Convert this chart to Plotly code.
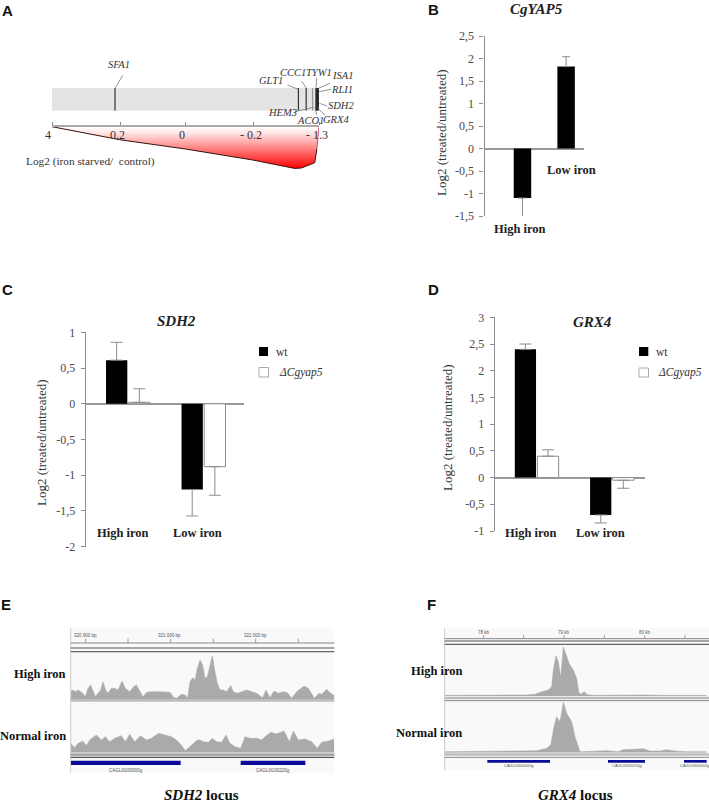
import plotly.graph_objects as go

W, H = 709, 802
SERIF = "Liberation Serif"
SANS = "Liberation Sans"
GREY = "#8c8c8c"
TICKTXT = "#4a4a4a"

# ---- Panel A data ----
wedge_rank = [0, 25.3, 50, 75.2, 87.7, 90.9, 93.4, 95.3, 98.4, 99.2, 100]
wedge_depth = [0, 13, 22.3, 33.3, 40, 41.7, 41.3, 39, 36, 22, 0]
gene_rank = [23.6, 92.3, 95.2, 97.6, 98.9, 99.3, 99.7]
gene_color = ["#333333", "#333333", "#333333", "#999999", "#000000", "#000000", "#000000"]
scale_ticks = [0, 25.5, 50, 75.5, 100]
scale_labels = ["4", "0.2", "0", "- 0.2", "- 1.3"]

# ---- Panel B data ----
yap5_cat = ["High iron", "Low iron"]
yap5_val = [-1.1, 1.82]
yap5_plus = [0, 0.22]
yap5_minus = [0.48, 0]

# ---- Panel C data ----
groups = ["High iron", "Low iron"]
sdh2_wt = [0.61, -1.2]
sdh2_wt_plus = [0.25, 0]
sdh2_wt_minus = [0, 0.37]
sdh2_mut = [0.02, -0.88]
sdh2_mut_plus = [0.19, 0]
sdh2_mut_minus = [0, 0.4]

# ---- Panel D data ----
grx4_wt = [2.4, -0.7]
grx4_wt_plus = [0.1, 0]
grx4_wt_minus = [0, 0.15]
grx4_mut = [0.4, -0.05]
grx4_mut_plus = [0.12, 0]
grx4_mut_minus = [0, 0.15]

# ---- Panel E coverage (position along the window, height of the pile-up) ----
e_high_pos = [212,219,226,234,242,249,256,264,272,279,286,294,302,309,317,324,334,344,354,366,376,389,401,409,419,429,440,455,475,490,510,522,530,545,555,563,570,578,585,592,600,608,615,622,630,637,645,652,660,670,680,692,700,712,725,740,755,770,788,798,810,822,835,850,862,875,890,912,925,943,957,965,980,992,1003]
e_high_cov = [25,27,22,27,22,17,7,32,42,22,7,17,27,52,27,17,32,32,27,54,32,22,37,42,22,7,20,22,22,21,20,4,2,15,12,3,52,64,57,92,117,102,62,67,102,130,82,47,27,27,22,40,22,17,22,27,22,17,4,27,4,24,17,22,19,2,22,39,32,2,17,14,29,17,10]
e_norm_pos = [212,224,234,249,259,269,289,304,316,329,344,364,376,389,404,422,439,454,476,494,514,529,544,556,574,592,600,610,625,637,650,665,678,690,705,722,735,750,770,785,795,812,830,852,868,880,895,915,935,952,965,985,1003]
e_norm_cov = [27,14,27,34,20,37,52,37,47,32,42,50,32,54,32,50,37,42,57,52,47,37,22,5,22,37,37,32,30,42,32,30,52,27,17,12,47,42,42,37,47,60,55,64,32,64,37,40,32,12,30,34,40]

# ---- Panel F coverage ----
f_high_pos = [254,300,350,400,450,500,525,545,565,575,580,588,595,602,610,618,628,640,650,657,665,672,682,700,760,800,860,900,1040]
f_high_cov = [2,2,3,2,3,3,5,13,18,28,78,121,103,56,148,123,96,78,53,8,6,13,4,2,3,2,3,2,2]
f_norm_pos = [254,300,370,420,480,530,560,572,582,590,598,603,610,620,635,645,660,700,740,775,790,820,850,870,900,920,945,980,1040]
f_norm_cov = [3,3,5,4,5,6,13,23,78,108,93,108,153,118,93,48,3,4,6,3,9,10,12,5,5,9,5,3,3]

# ---- Track labels ----
e_ruler_labels = ["320 900 bp", "321 000 bp", "322 000 bp"]
f_ruler_labels = ["78 kb", "79 kb", "80 kb"]
e_gene_labels = ["CAGL0G00000g", "CAGL0G00220g"]
f_gene_labels = ["CAGL0G00000g", "CAGL0G00220g", "CAGL0G00000g"]


def px(x):
    return x / W


def py(y):
    return 1 - y / H


fig = go.Figure()
ann = []
shapes = []
axes = {}
n_axes = [0]


def note(x, y, text, size=12, color="#222222", family=SERIF, xa="center", angle=0):
    ann.append(dict(x=px(x), y=py(y), xref="paper", yref="paper", text=text, showarrow=False,
                    xanchor=xa, yanchor="middle", textangle=angle,
                    font=dict(size=size, color=color, family=family)))


def rect(x0, y0, x1, y1, fill, line=None, lw=0, layer="below"):
    shapes.append(dict(type="rect", xref="paper", yref="paper", x0=px(x0), x1=px(x1),
                       y0=py(y0), y1=py(y1), fillcolor=fill, layer=layer,
                       line=dict(color=line or fill, width=lw)))


def seg(x0, y0, x1, y1, color, lw=1):
    shapes.append(dict(type="line", xref="paper", yref="paper", x0=px(x0), x1=px(x1),
                       y0=py(y0), y1=py(y1), line=dict(color=color, width=lw)))


def new_axes(xpx, ypx, xcfg, ycfg):
    n_axes[0] += 1
    i = n_axes[0]
    s = "" if i == 1 else str(i)
    xid, yid = "x" + s, "y" + s
    axes["xaxis" + s] = dict(domain=[px(xpx[0]), px(xpx[1])], anchor=yid, automargin=False, **xcfg)
    axes["yaxis" + s] = dict(domain=[py(ypx[1]), py(ypx[0])], anchor=xid, automargin=False, **ycfg)
    return xid, yid


HIDDEN = dict(visible=False, fixedrange=True)

# ===== Panel A =====
rect(52, 88, 318.5, 110.7, "#e4e4e4")
xa, ya = new_axes((52, 319), (88, 110.7), dict(range=[0, 100], **HIDDEN), dict(range=[0, 1], **HIDDEN))
for r, c in zip(gene_rank, gene_color):
    fig.add_trace(go.Scatter(x=[r, r], y=[0, 1], mode="lines", line=dict(color=c, width=1.2),
                             xaxis=xa, yaxis=ya, showlegend=False, hoverinfo="skip"))
for a, b, c, d in [(346, 264, 368, 226), (895, 268, 862, 255), (919, 265, 905, 243), (948, 265, 950, 233),
                   (955, 265, 990, 250), (957, 275, 993, 268), (958, 310, 982, 318), (950, 322, 975, 345),
                   (945, 322, 950, 345), (940, 322, 885, 335)]:
    seg(a / 3, b / 3, c / 3, d / 3, "#666666", 0.7)
for x, y, t in [(119, 64, "SFA1"), (271, 81, "GLT1"), (293, 72.7, "CCC1"), (319, 72.7, "TYW1"), (342, 76, "ISA1"),
                (342, 89, "RLI1"), (341, 106, "SDH2"), (282, 113, "HEM3"), (310, 120, "ACO1"), (336, 119, "GRX4")]:
    note(x, y, "<i>%s</i>" % t, size=10.5, color="#333333")

xa, ya = new_axes(
    (52, 319), (126.7, 170),
    dict(range=[0, 100], side="top", showline=True, linecolor="#aaaaaa", linewidth=1.5, showgrid=False,
         zeroline=False, ticks="outside", ticklen=3, tickcolor="#888888", tickvals=scale_ticks,
         showticklabels=False, fixedrange=True),
    dict(range=[43.3, 0], **HIDDEN))
fig.add_trace(go.Scatter(x=wedge_rank, y=wedge_depth, mode="lines", fill="toself",
                         fillgradient=dict(type="vertical", colorscale=[[0, "#ff0000"], [0.85, "#ffe6e6"], [1, "#ffffff"]]),
                         line=dict(width=0), xaxis=xa, yaxis=ya, showlegend=False, hoverinfo="skip"))
fig.add_trace(go.Scatter(x=wedge_rank[:-1], y=wedge_depth[:-1], mode="lines", line=dict(color="#3a1010", width=1),
                         xaxis=xa, yaxis=ya, showlegend=False, hoverinfo="skip"))
fig.add_trace(go.Scatter(x=wedge_rank[-2:], y=wedge_depth[-2:], mode="lines", line=dict(color="#cc5555", width=1),
                         xaxis=xa, yaxis=ya, showlegend=False, hoverinfo="skip"))
for x, t in zip([47.7, 117, 182, 251, 317], scale_labels):
    note(x, 134.7, t, size=12, color="#333333")
note(24, 162, "Log2 (iron starved/  control)", size=11.3, color="#333333", xa="left")


def y_axis(rng, vals, labels):
    return dict(range=rng, tickvals=vals, ticktext=labels, showline=True, linecolor=GREY, linewidth=1.2,
                ticks="outside", ticklen=4, tickcolor=GREY, showgrid=False, zeroline=True, zerolinecolor="#999999",
                zerolinewidth=1.6, tickfont=dict(family=SERIF, size=12, color=TICKTXT), ticklabelstandoff=3,
                fixedrange=True)


def x_axis(rng):
    return dict(type="category", range=rng, showline=False, ticks="", showticklabels=False, showgrid=False,
                zeroline=False, fixedrange=True)


def err(plus, minus, width):
    return dict(type="data", symmetric=False, array=plus, arrayminus=minus, color=GREY, thickness=1, width=width)


# ===== Panel B =====
xa, ya = new_axes((484.5, 584), (36, 216), x_axis([-0.87, 1.41]),
                  y_axis([-1.5, 2.5], [-1.5, -1, -0.5, 0, 0.5, 1, 1.5, 2, 2.5],
                         ["-1,5", "-1", "-0,5", "0", "0,5", "1", "1,5", "2", "2,5"]))
fig.add_trace(go.Bar(x=yap5_cat, y=yap5_val, width=0.4, marker=dict(color="#000000", line=dict(width=0)),
                     error_y=err(yap5_plus, yap5_minus, 4), cliponaxis=False, xaxis=xa, yaxis=ya,
                     showlegend=False))
note(442, 133, "Log2 (treated/untreated)", size=13, color="#333333", angle=-90)
note(536, 8.7, "<b><i>CgYAP5</i></b>", size=15)
note(520, 229, "<b>High iron</b>", size=12.5)
note(571.7, 170, "<b>Low iron</b>", size=12.5)


def grouped(xpx, ypx, xr, yr, vals, labs, wt, wtp, wtm, mut, mutp, mutm):
    xa, ya = new_axes(xpx, ypx, x_axis(xr), y_axis(yr, vals, labs))
    fig.add_trace(go.Bar(x=groups, y=wt, name="wt", marker=dict(color="#000000", line=dict(width=0)),
                         error_y=err(wtp, wtm, 6), cliponaxis=False, xaxis=xa, yaxis=ya, showlegend=False))
    fig.add_trace(go.Bar(x=groups, y=mut, name="\u0394Cgyap5", marker=dict(color="#ffffff", line=dict(color=GREY, width=1)),
                         error_y=err(mutp, mutm, 6), cliponaxis=False, xaxis=xa, yaxis=ya, showlegend=False))


# ===== Panel C =====
grouped((85.7, 244), (332.3, 546.7), [-0.56, 1.536], [-2, 1],
        [-2, -1.5, -1, -0.5, 0, 0.5, 1], ["-2", "-1,5", "-1", "-0,5", "0", "0,5", "1"],
        sdh2_wt, sdh2_wt_plus, sdh2_wt_minus, sdh2_mut, sdh2_mut_plus, sdh2_mut_minus)
note(42, 443, "Log2 (treated/untreated)", size=13, color="#333333", angle=-90)
note(176.7, 320.7, "<b><i>SDH2</i></b>", size=15)
note(122.7, 533, "<b>High iron</b>", size=12.5)
note(197, 533, "<b>Low iron</b>", size=12.5)
rect(259, 347, 268, 356, "#000000", layer="above")
rect(259, 367.5, 268.5, 377, "#ffffff", line="#aaaaaa", lw=1, layer="above")
note(274, 351.5, "wt", size=11.5, color="#333333", xa="left")
note(277, 372, "<i>\u0394Cgyap5</i>", size=11.5, color="#333333", xa="left")

# ===== Panel D =====
grouped((494.7, 645), (317.3, 531), [-0.558, 1.438], [-1, 3],
        [-1, -0.5, 0, 0.5, 1, 1.5, 2, 2.5, 3], ["-1", "-0,5", "0", "0,5", "1", "1,5", "2", "2,5", "3"],
        grx4_wt, grx4_wt_plus, grx4_wt_minus, grx4_mut, grx4_mut_plus, grx4_mut_minus)
note(448, 428, "Log2 (treated/untreated)", size=13, color="#333333", angle=-90)
note(592.7, 321.7, "<b><i>GRX4</i></b>", size=15)
note(531, 533, "<b>High iron</b>", size=12.5)
note(600, 533, "<b>Low iron</b>", size=12.5)
rect(639, 347, 648.3, 356, "#000000", layer="above")
rect(639, 368, 648.5, 377, "#ffffff", line="#aaaaaa", lw=1, layer="above")
note(654, 351.5, "wt", size=11.5, color="#333333", xa="left")
note(656, 372, "<i>\u0394Cgyap5</i>", size=11.5, color="#333333", xa="left")


# ===== Tracks =====
def coverage(pos, cov, xr, top, base, full):
    xa, ya = new_axes((xr[0] / 3 + xr[2], xr[1] / 3 + xr[2]), (590 + top / 3, 590 + base / 3),
                      dict(range=xr[:2], **HIDDEN), dict(range=[0, full], **HIDDEN))
    fig.add_trace(go.Scatter(x=pos, y=cov, mode="lines", fill="tozeroy", fillcolor="#aaaaaa",
                             line=dict(color="#aaaaaa", width=0.5), xaxis=xa, yaxis=ya, showlegend=False,
                             hoverinfo="skip"))


# Panel E
rect(70.7, 628.3, 334.3, 772.7, "#f9f9f9")
seg(70.7, 628.3, 70.7, 772.7, "#cccccc", 1)
for t in [257, 384, 512, 640, 767, 895]:
    seg(t / 3, 590 + 146 / 3, t / 3, 590 + 158 / 3, "#888888", 0.8)
for x, t in zip([255, 508, 765], e_ruler_labels):
    note(x / 3, 590 + 135 / 3, t, size=4.5, color="#555555", family=SANS)
seg(70.7, 590 + 159 / 3, 334.3, 590 + 159 / 3, "#888888", 1)
seg(70.7, 590 + 174 / 3, 334.3, 590 + 174 / 3, "#555555", 1.2)
seg(70.7, 590 + 185 / 3, 334.3, 590 + 185 / 3, "#666666", 1.2)
rect(70.7, 590 + 327 / 3, 334.3, 590 + 335 / 3, "#bdbdbd")
rect(70.7, 590 + 487 / 3, 334.3, 590 + 492 / 3, "#c4c4c4")
seg(70.7, 590 + 495 / 3, 334.3, 590 + 495 / 3, "#555555", 1.2)
seg(70.7, 590 + 502 / 3, 334.3, 590 + 502 / 3, "#555555", 1.2)
coverage(e_high_pos, e_high_cov, [212, 1003, 0], 190, 327, 137)
coverage(e_norm_pos, e_norm_cov, [212, 1003, 0], 338, 487, 149)
rect(71, 590 + 512 / 3, 542 / 3, 590 + 525 / 3, "#0a0a96", layer="above")
rect(722 / 3, 590 + 512 / 3, 916 / 3, 590 + 525 / 3, "#0a0a96", layer="above")
note(377 / 3, 590 + 540 / 3, e_gene_labels[0], size=4.5, color="#555555", family=SANS)
note(820 / 3, 590 + 540 / 3, e_gene_labels[1], size=4.5, color="#555555", family=SANS)
note(67.5, 674, "<b>High iron</b>", size=12.5, color="#111111", xa="right")
note(67.5, 736, "<b>Normal iron</b>", size=12.5, color="#111111", xa="right")
note(201.7, 795, "<b><i>SDH2</i> locus</b>", size=15, color="#111111")

# Panel F
ox = 360
rect(ox + 254 / 3, 628.3, W, 590 + 540 / 3, "#f9f9f9")
seg(ox + 254 / 3, 628.3, ox + 254 / 3, 590 + 542 / 3, "#cccccc", 1)
for t in [371, 491, 612, 733, 854, 975]:
    seg(ox + t / 3, 590 + 135 / 3, ox + t / 3, 590 + 145 / 3, "#888888", 0.8)
for x, t in zip([371, 612, 854], f_ruler_labels):
    note(ox + x / 3, 590 + 127 / 3, t, size=4.5, color="#555555", family=SANS)
seg(ox + 254 / 3, 590 + 146 / 3, W, 590 + 146 / 3, "#888888", 1)
seg(ox + 254 / 3, 590 + 153 / 3, W, 590 + 153 / 3, "#555555", 1.2)
seg(ox + 254 / 3, 590 + 163 / 3, W, 590 + 163 / 3, "#666666", 1.2)
rect(ox + 254 / 3, 590 + 320 / 3, W, 590 + 328 / 3, "#bdbdbd")
seg(ox + 254 / 3, 590 + 332 / 3, W, 590 + 332 / 3, "#888888", 1)
rect(ox + 254 / 3, 590 + 490 / 3, W, 590 + 497 / 3, "#bdbdbd")
seg(ox + 254 / 3, 590 + 502 / 3, W, 590 + 502 / 3, "#888888", 1)
coverage(f_high_pos, f_high_cov, [254, 1040, ox], 165, 318, 153)
coverage(f_norm_pos, f_norm_cov, [254, 1040, ox], 335, 488, 153)
for a, b in [(382, 570), (744, 855), (972, 1040)]:
    rect(ox + a / 3, 590 + 510 / 3, ox + b / 3, 590 + 518 / 3, "#0a0a96", layer="above")
for x, t in zip([476, 800, 1005], f_gene_labels):
    note(ox + x / 3, 590 + 527 / 3, t, size=4, color="#555555", family=SANS)
note(ox + 230 / 3, 590 + 242 / 3, "<b>High iron</b>", size=12.5, color="#111111")
note(ox + 206 / 3, 590 + 428 / 3, "<b>Normal iron</b>", size=12.5, color="#111111")
note(575, 795, "<b><i>GRX4</i> locus</b>", size=15, color="#111111")

# Panel letters
for x, y, t in [(7, 10, "A"), (433, 9, "B"), (7, 289, "C"), (433, 289, "D"), (6, 604, "E"), (431, 604, "F")]:
    note(x, y, "<b>%s</b>" % t, size=15, color="#111111", family=SANS)

fig.update_layout(template="none", width=W, height=H, margin=dict(l=0, r=0, t=0, b=0, pad=0), autosize=False,
                  paper_bgcolor="#ffffff", plot_bgcolor="rgba(0,0,0,0)", barmode="group", bargap=0.4,
                  bargroupgap=0.06, showlegend=False, annotations=ann, shapes=shapes, **axes)
fig.write_html("out.html", config={"displayModeBar": False}, post_script="document.body.style.margin='0';")
